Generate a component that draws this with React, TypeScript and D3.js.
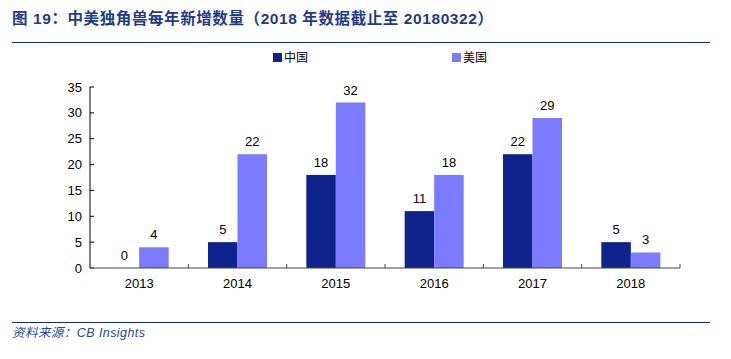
import React from "react";
import * as d3 from "d3";

const categories = ["2013", "2014", "2015", "2016", "2017", "2018"];
const chinaValues = [0, 5, 18, 11, 22, 5];
const usaValues = [4, 22, 32, 18, 29, 3];
const yTicks = [0, 5, 10, 15, 20, 25, 30, 35];
const seriesNames = ["中国", "美国"];

const W = 731;
const H = 359;
const left = 90;
const right = 680;
const top = 87;
const bottom = 268;
const chinaColor = "#0F238C";
const usaColor = "#7B7BFF";
const font = "Arial, 'Liberation Sans', 'Noto Sans CJK SC', sans-serif";

export default function App() {
  const x = d3.scaleBand<string>().domain(categories).range([left, right]);
  const y = d3.scaleLinear().domain([0, 35]).range([bottom, top]);
  const bw = x.bandwidth();
  const barW = bw * 0.3;
  const series = [
    { name: seriesNames[0], values: chinaValues, color: chinaColor, off: -1, lx: 273 },
    { name: seriesNames[1], values: usaValues, color: usaColor, off: 0, lx: 452 },
  ];
  return (
    <svg
      width={W}
      height={H}
      style={{ position: "absolute", left: 0, top: 0, background: "#fff" }}
      fontFamily={font}
    >
      <text
        x={12}
        y={24}
        fontSize={15.5}
        fontWeight="bold"
        fill="#1E3A8A"
        textLength={481}
        lengthAdjust="spacing"
      >
        图 19：中美独角兽每年新增数量（2018 年数据截止至 20180322）
      </text>
      <line x1={12} x2={710} y1={42.5} y2={42.5} stroke="#13297A" strokeWidth={1.2} />

      {/* legend */}
      {series.map((s) => (
        <g key={s.name}>
          <rect x={s.lx} y={53} width={9} height={9} fill={s.color} />
          <text x={s.lx + 11} y={61.5} fontSize={12} fill="#000">
            {s.name}
          </text>
        </g>
      ))}

      {/* bars */}
      {series.map((s) =>
        categories.map((c, i) => {
          const cx = (x(c) ?? 0) + bw / 2;
          const bx = cx + s.off * barW;
          const v = s.values[i];
          return (
            <g key={s.name + c}>
              {v > 0 && (
                <rect x={bx} y={y(v)} width={barW} height={bottom - y(v)} fill={s.color} />
              )}
              <text
                x={bx + barW / 2}
                y={y(v) - 8}
                fontSize={13}
                textAnchor="middle"
                fill="#000"
              >
                {v}
              </text>
            </g>
          );
        })
      )}

      {/* y axis */}
      <line x1={left} x2={left} y1={top} y2={bottom} stroke="#000" strokeWidth={1} />
      {yTicks.map((t) => (
        <g key={t}>
          <line x1={left} x2={left + 4} y1={y(t)} y2={y(t)} stroke="#000" />
          <text x={left - 8} y={y(t) + 4.5} fontSize={13} textAnchor="end" fill="#000">
            {t}
          </text>
        </g>
      ))}

      {/* x axis */}
      <line x1={left} x2={right} y1={bottom} y2={bottom} stroke="#444" strokeWidth={1.2} />
      {categories.map((c) => (
        <g key={c}>
          <line
            x1={(x(c) ?? 0) + bw}
            x2={(x(c) ?? 0) + bw}
            y1={bottom}
            y2={bottom - 4}
            stroke="#444"
          />
          <text
            x={(x(c) ?? 0) + bw / 2}
            y={bottom + 20}
            fontSize={13}
            textAnchor="middle"
            fill="#000"
          >
            {c}
          </text>
        </g>
      ))}

      <line x1={12} x2={710} y1={322.5} y2={322.5} stroke="#13297A" strokeWidth={1.2} />
      <text
        x={12}
        y={337}
        fontSize={12.5}
        fontStyle="italic"
        fill="#1E4A9A"
        textLength={133}
        lengthAdjust="spacing"
      >
        资料来源：CB Insights
      </text>
    </svg>
  );
}
